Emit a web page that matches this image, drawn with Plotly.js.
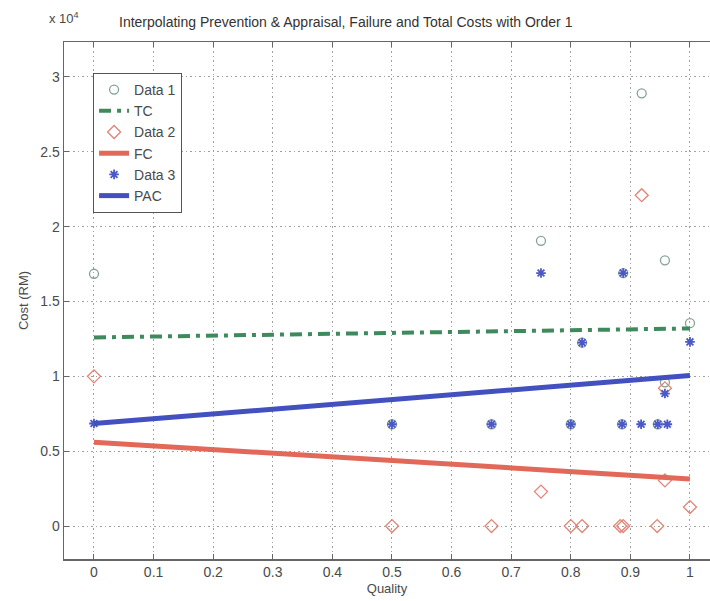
<!DOCTYPE html>
<html>
<head>
<meta charset="utf-8">
<script src="https://cdn.plot.ly/plotly-3.0.1.min.js"></script>
<style>html,body{margin:0;padding:0;background:#fff;}#chart{width:710px;height:601px;}</style>
</head>
<body>
<div id="chart"></div>
<script>
// Quality values and costs (RM)
var data1X = [0, 0.5, 0.667, 0.75, 0.8, 0.819, 0.886, 0.888, 0.919, 0.946, 0.958, 0.958, 1];
var data1Y = [16850, 6800, 6800, 19050, 6800, 12250, 6800, 16900, 28900, 6800, 17750, 9600, 13550];

var data2X = [0, 0.5, 0.667, 0.75, 0.8, 0.819, 0.883, 0.888, 0.919, 0.945, 0.958, 0.958, 1];
var data2Y = [10000, 0, 0, 2300, 0, 0, 0, 0, 22100, 0, 3050, 9200, 1270];

var data3X = [0, 0.5, 0.667, 0.75, 0.8, 0.819, 0.886, 0.888, 0.918, 0.946, 0.962, 0.958, 1];
var data3Y = [6850, 6800, 6800, 16900, 6800, 12250, 6800, 16900, 6800, 6800, 6800, 8850, 12300];

var lineX = [0, 1];
var tcY = [12600, 13200];
var fcY = [5600, 3150];
var pacY = [6850, 10050];

var xTicks = [0, 0.1, 0.2, 0.3, 0.4, 0.5, 0.6, 0.7, 0.8, 0.9, 1];
var xTickText = ['0', '0.1', '0.2', '0.3', '0.4', '0.5', '0.6', '0.7', '0.8', '0.9', '1'];
var yTicks = [0, 5000, 10000, 15000, 20000, 25000, 30000];
var yTickText = ['0', '0.5', '1', '1.5', '2', '2.5', '3'];

var FONT = 'Liberation Sans, Arial, sans-serif';
var TXT = '#4a4a4a';

var traces = [
  {x: data1X, y: data1Y, name: 'Data 1', mode: 'markers', type: 'scatter',
   marker: {symbol: 'circle-open', size: 9, color: '#86a396', line: {width: 1.3}}},
  {x: lineX, y: tcY, name: 'TC', mode: 'lines', type: 'scatter',
   line: {color: '#3f8a5c', width: 4, dash: '12px,6px,4px,6px'}},
  {x: data2X, y: data2Y, name: 'Data 2', mode: 'markers', type: 'scatter',
   marker: {symbol: 'diamond-open', size: 10, color: '#e08476', line: {width: 1.3}}},
  {x: lineX, y: fcY, name: 'FC', mode: 'lines', type: 'scatter',
   line: {color: '#e2685a', width: 5}},
  {x: data3X, y: data3Y, name: 'Data 3', mode: 'markers', type: 'scatter',
   marker: {symbol: 'asterisk-open', size: 8, color: '#4a58c8', line: {width: 1.8, color: '#4a58c8'}}},
  {x: lineX, y: pacY, name: 'PAC', mode: 'lines', type: 'scatter',
   line: {color: '#4250c0', width: 5}}
];

var layout = {
  width: 710, height: 601,
  margin: {l: 64, r: 0, t: 42, b: 42, pad: 0},
  paper_bgcolor: '#ffffff', plot_bgcolor: '#ffffff',
  font: {family: FONT, size: 14, color: TXT},
  showlegend: true,
  legend: {x: 0.045, y: 0.94, xanchor: 'left', yanchor: 'top',
           bgcolor: '#ffffff', bordercolor: '#555', borderwidth: 1,
           font: {family: FONT, size: 14, color: TXT}},
  xaxis: {range: [-0.0503, 1.0336], tickvals: xTicks, ticktext: xTickText,
          showgrid: true, gridcolor: '#a0a0a0', griddash: '1.5px,3px', gridwidth: 1,
          zeroline: false, showline: true, linecolor: '#666', linewidth: 1.5,
          mirror: 'ticks', ticks: 'inside', ticklen: 5, tickcolor: '#666',
          tickfont: {family: FONT, size: 14, color: TXT},
          title: {text: 'Quality', font: {family: FONT, size: 13, color: TXT}, standoff: 4}},
  yaxis: {range: [-2200, 32330], tickvals: yTicks, ticktext: yTickText,
          showgrid: true, gridcolor: '#a0a0a0', griddash: '1.5px,3px', gridwidth: 1,
          zeroline: false, showline: true, linecolor: '#666', linewidth: 1.5,
          ticks: 'inside', ticklen: 5, tickcolor: '#666',
          tickfont: {family: FONT, size: 14, color: TXT},
          title: {text: 'Cost (RM)', font: {family: FONT, size: 13, color: TXT}, standoff: 8}},
  annotations: [
    {text: 'Interpolating Prevention &amp; Appraisal, Failure and Total Costs with Order 1',
     xref: 'paper', yref: 'paper', x: 0.437, y: 1, yshift: 20, xanchor: 'center', yanchor: 'middle',
     showarrow: false, font: {family: FONT, size: 14, color: '#333'}},
    {text: 'x 10<sup>4</sup>', xref: 'paper', yref: 'paper', x: -0.027, y: 1, yshift: 24,
     xanchor: 'left', yanchor: 'middle', showarrow: false,
     font: {family: FONT, size: 13, color: TXT}}
  ]
};

Plotly.newPlot('chart', traces, layout, {displayModeBar: false, staticPlot: true});
</script>
</body>
</html>
